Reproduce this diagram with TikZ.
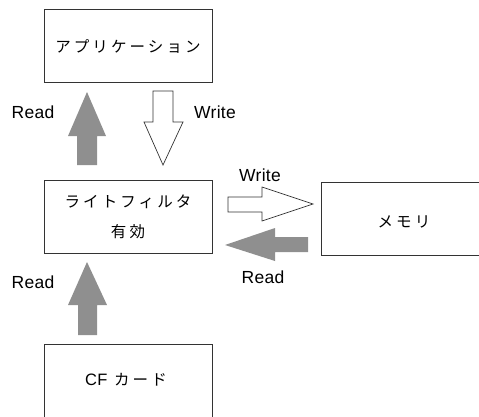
\documentclass[tikz,border=0pt]{standalone}
\usepackage{fontspec}
\setmainfont{Liberation Sans}[LetterSpace=1.5]
\newfontfamily\jp{Noto Sans CJK JP}[LetterSpace=20]
\definecolor{arrgray}{HTML}{8F8F8F}
\definecolor{linegray}{HTML}{333333}
\begin{document}
\begin{tikzpicture}[x=1pt,y=-1pt,
  box/.style={draw=linegray,line width=0.8pt},
  readarr/.style={fill=arrgray,draw=none},
  writearr/.style={fill=white,draw=linegray,line width=0.7pt,line join=miter},
  lbl/.style={font=\fontsize{17.5}{20}\selectfont,inner sep=0pt},
  jlbl/.style={font=\fontsize{15.5}{18}\jp,inner sep=0pt}]
\useasboundingbox (0,0) rectangle (479,416);
% boxes
\draw[box] (44,9) rectangle (212,82);
\node[jlbl] (app) at (128,46) {アプリケーション};
\draw[box] (44,180) rectangle (212,253);
\node[jlbl] (wf1) at (128,202) {ライトフィルタ};
\node[jlbl] (wf2) at (128,232) {有効};
\draw[box] (484,182) -- (321,182) -- (321,255) -- (484,255);
\node[jlbl] (mem) at (404,222) {メモリ};
\draw[box] (44,420) -- (44,344) -- (212,344) -- (212,420);
\node[jlbl] (cf) at (126,380) {{\rmfamily\fontsize{16.5}{18}\selectfont CF} カード};
% read up arrow (top)
\fill[readarr] (77,165) -- (77,136) -- (68,136) -- (87,92) -- (106,136) -- (97,136) -- (97,165) -- cycle;
\node[lbl] (r1) at (33,112) {Read};
% write down arrow
\draw[writearr] (153,91) -- (173,91) -- (173,122) -- (183,122) -- (163,165) -- (144,122) -- (153,122) -- cycle;
\node[lbl] (w1) at (215,112) {Write};
% write right arrow
\draw[writearr] (228,197) -- (262,197) -- (262,187) -- (313,204) -- (262,221) -- (262,212) -- (228,212) -- cycle;
\node[lbl] (w2) at (260,175) {Write};
% read left arrow
\fill[readarr] (308,237) -- (275,237) -- (275,228) -- (225,245) -- (275,261) -- (275,252) -- (308,252) -- cycle;
\node[lbl] (r2) at (263,277) {Read};
% read up arrow (bottom)
\fill[readarr] (78,335) -- (78,305) -- (68,305) -- (87,262) -- (107,305) -- (97,305) -- (97,335) -- cycle;
\node[lbl] (r3) at (33,282) {Read};
\end{tikzpicture}
\end{document}
